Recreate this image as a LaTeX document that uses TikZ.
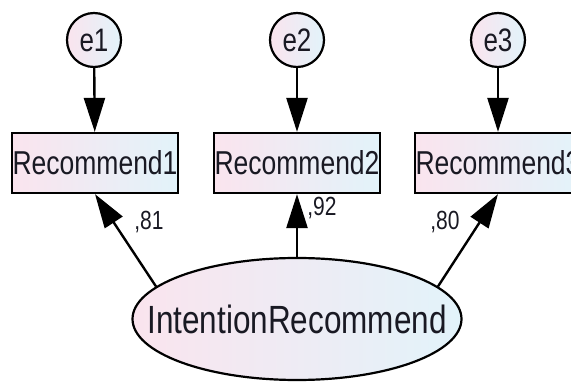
\documentclass[tikz,border=0pt]{standalone}
\usepackage{fontspec}
\setmainfont{Liberation Sans}
\usetikzlibrary{arrows.meta,shapes.geometric}
\definecolor{fillL}{RGB}{250,228,238}
\definecolor{fillR}{RGB}{226,243,250}
\definecolor{inkc}{RGB}{25,25,35}
\newcommand{\tallt}[1]{\scalebox{1}[1.25]{#1}}
\tikzset{
  obs/.style={draw=black, line width=2.2pt, rectangle, minimum width=166pt, minimum height=60pt,
    left color=fillL, right color=fillR, text=inkc, inner sep=0pt,
    font=\fontsize{26.5}{26.5}\selectfont},
  err/.style={draw=black, line width=2.2pt, circle, minimum size=54pt, inner sep=0pt,
    left color=fillL, right color=fillR, text=inkc, font=\fontsize{26}{26}\selectfont},
  lat/.style={draw=black, line width=2.2pt, ellipse, minimum width=329pt, minimum height=122pt,
    left color=fillL, right color=fillR, text=inkc, inner sep=0pt,
    font=\fontsize{31.5}{31.5}\selectfont},
  path/.style={line width=2.4pt, -{Triangle[length=34pt,width=21pt]}},
  coef/.style={text=inkc, inner sep=0pt, font=\fontsize{21}{21}\selectfont}
}
\begin{document}
\begin{tikzpicture}[x=1pt,y=-1pt]
\useasboundingbox[fill=white] (0,0) rectangle (571,382);
% error terms
\node[err] (e1) at (94,40) {\tallt{e1}};
\node[err] (e2) at (297,40) {\tallt{e2}};
\node[err] (e3) at (498,40) {\tallt{e3}};
% observed indicators
\node[obs] (r1) at (95,163) {\tallt{Recommend1}};
\node[obs] (r2) at (297,163) {\tallt{Recommend2}};
\node[obs] (r3) at (498,163) {\tallt{Recommend3}};
% latent factor (label kept zero-width so the ellipse keeps its set size)
\node[lat] (f) at (297,319) {\makebox[0pt]{\tallt{IntentionRecommend}}};
% error paths
\draw[path] (e1) -- (r1);
\draw[path] (e2) -- (r2);
\draw[path] (e3) -- (r3);
% loadings
\draw[path] (f.167) -- (r1.south);
\draw[path] (f.north) -- (r2.south);
\draw[path] (f.13) -- (r3.south);
\node[coef] (c1) at (149,222) {\tallt{,81}};
\node[coef] (c2) at (322,208) {\tallt{,92}};
\node[coef] (c3) at (445,222) {\tallt{,80}};
\end{tikzpicture}
\end{document}
